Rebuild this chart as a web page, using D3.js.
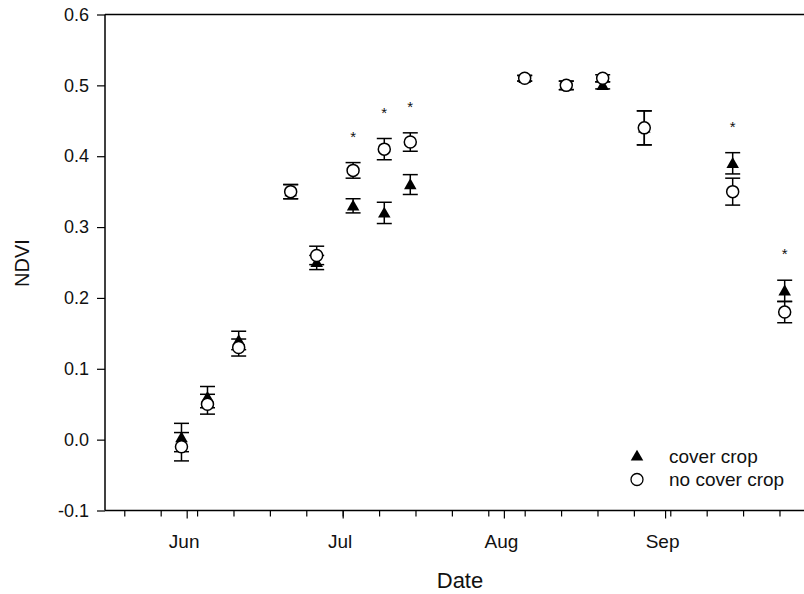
<!DOCTYPE html>
<html><head><meta charset="utf-8">
<script src="https://cdn.jsdelivr.net/npm/d3@7"></script>
<style>
body{margin:0;background:#fff;}
svg{display:block;font-family:"Liberation Sans",Arial,sans-serif;}
</style></head>
<body><svg id="c" width="804" height="594"></svg>
<script>
// ---- data ----
const dates = ["2012-05-31","2012-06-05","2012-06-11","2012-06-21","2012-06-26","2012-07-03","2012-07-09","2012-07-14","2012-08-05","2012-08-13","2012-08-20","2012-08-28","2012-09-14","2012-09-24"];
const coverCrop      = [0.003,0.06,0.14,0.35,0.25,0.33,0.32,0.36,0.51,0.50,0.50,0.44,0.39,0.21];
const coverCropErr   = [0.02,0.015,0.013,0.01,0.01,0.01,0.015,0.014,0.004,0.006,0.005,0.024,0.015,0.015];
const noCoverCrop    = [-0.01,0.05,0.13,0.35,0.26,0.38,0.41,0.42,0.51,0.50,0.51,0.44,0.35,0.18];
const noCoverCropErr = [0.02,0.014,0.012,0.01,0.013,0.011,0.015,0.013,0.004,0.006,0.005,0.024,0.019,0.015];
const significant    = [false,false,false,false,false,true,true,true,false,false,false,false,true,true];
const yTicks = [-0.1,0.0,0.1,0.2,0.3,0.4,0.5,0.6];
const monthTicks = ["2012-06-01","2012-07-01","2012-08-01","2012-09-01"];
const monthLabels = ["Jun","Jul","Aug","Sep"];
const seriesNames = ["cover crop","no cover crop"];

const parse = d3.timeParse("%Y-%m-%d");
const fmt = d3.formatLocale({decimal:".",thousands:",",grouping:[3],currency:["",""],minus:"-"}).format(".1f");
const svg = d3.select("#c");
const L = 105, T = 14.5, B = 510.5, R = 807;
const x = d3.scaleTime().domain([new Date(2012,4,16,7), new Date(2012,8,28,7)]).range([L, R]);
const y = d3.scaleLinear().domain([-0.1, 0.6]).range([B, T]);
const FF = "Liberation Sans, Arial, sans-serif";

// frame
svg.append("line").attr("x1",L).attr("x2",804).attr("y1",T).attr("y2",T).attr("stroke","#000").attr("stroke-width",1.5);

// y axis
const yAxis = d3.axisLeft(y).tickValues(yTicks).tickFormat(fmt).tickSize(8).tickPadding(8);
const gy = svg.append("g").attr("transform",`translate(${L},0)`).call(yAxis);
gy.select(".domain").attr("stroke-width",1.5).attr("d",`M0,${T}V${B}`);
gy.selectAll(".tick line").attr("stroke-width",1.2);
gy.selectAll("text").attr("font-size",18).attr("fill","#111").attr("font-family",FF);

// x axis: weekly minor ticks
const weeks = d3.timeWeek.range(x.domain()[0], x.domain()[1]);
const gx = svg.append("g").attr("transform",`translate(0,${B})`)
  .call(d3.axisBottom(x).tickValues(weeks).tickSize(6).tickFormat(""));
gx.select(".domain").attr("stroke-width",1.5).attr("d",`M${L},0H804`);
gx.selectAll(".tick line").attr("stroke-width",1.2);
const gm = svg.append("g").attr("transform",`translate(0,${B})`)
  .call(d3.axisBottom(x).tickValues(monthTicks.map(parse)).tickSize(8).tickPadding(16)
    .tickFormat((d,i)=>monthLabels[i]));
gm.select(".domain").remove();
gm.selectAll(".tick line").attr("stroke-width",1.2);
gm.selectAll("text").attr("font-size",19).attr("fill","#111").attr("font-family",FF).attr("dx",-3);

// axis titles
svg.append("text").attr("x",460).attr("y",588).attr("text-anchor","middle").attr("font-size",22).attr("fill","#111").text("Date");
svg.append("text").attr("transform","translate(29,263) rotate(-90)").attr("text-anchor","middle").attr("font-size",20).attr("fill","#111").text("NDVI");

const rows = dates.map((d,i)=>({date:parse(d), c:coverCrop[i], ce:coverCropErr[i], n:noCoverCrop[i], ne:noCoverCropErr[i], sig:significant[i]}));
const cap = 7.5;
function errbars(g, val, err){
  const e = g.selectAll(null).data(rows).enter().append("g").attr("stroke","#000").attr("stroke-width",1.5);
  e.append("line").attr("x1",d=>x(d.date)).attr("x2",d=>x(d.date)).attr("y1",d=>y(val(d)+err(d))).attr("y2",d=>y(val(d)-err(d)));
  e.append("line").attr("x1",d=>x(d.date)-cap).attr("x2",d=>x(d.date)+cap).attr("y1",d=>y(val(d)+err(d))).attr("y2",d=>y(val(d)+err(d)));
  e.append("line").attr("x1",d=>x(d.date)-cap).attr("x2",d=>x(d.date)+cap).attr("y1",d=>y(val(d)-err(d))).attr("y2",d=>y(val(d)-err(d)));
}
const gp = svg.append("g");
errbars(gp, d=>d.c, d=>d.ce);
errbars(gp, d=>d.n, d=>d.ne);
const tri = d3.symbol().type(d3.symbolTriangle).size(68);
gp.selectAll(null).data(rows).enter().append("path").attr("d",tri)
  .attr("transform",d=>`translate(${x(d.date)},${y(d.c)+1})`).attr("fill","#000");
gp.selectAll(null).data(rows).enter().append("circle")
  .attr("cx",d=>x(d.date)).attr("cy",d=>y(d.n)).attr("r",6)
  .attr("fill","#fff").attr("stroke","#000").attr("stroke-width",1.5);
gp.selectAll(null).data(rows.filter(d=>d.sig)).enter().append("text")
  .attr("x",d=>x(d.date)).attr("y",d=>Math.min(y(d.c+d.ce),y(d.n+d.ne))-21)
  .attr("text-anchor","middle").attr("font-size",15).attr("fill","#111").text("*");

// legend
const lg = svg.append("g");
lg.append("path").attr("d",tri).attr("transform","translate(637,457)").attr("fill","#000");
lg.append("circle").attr("cx",637).attr("cy",479.5).attr("r",6).attr("fill","#fff").attr("stroke","#000").attr("stroke-width",1.3);
lg.selectAll(null).data(seriesNames).enter().append("text")
  .attr("x",669).attr("y",(d,i)=>463+i*23).attr("font-size",19).attr("fill","#111").text(d=>d);
</script></body></html>
